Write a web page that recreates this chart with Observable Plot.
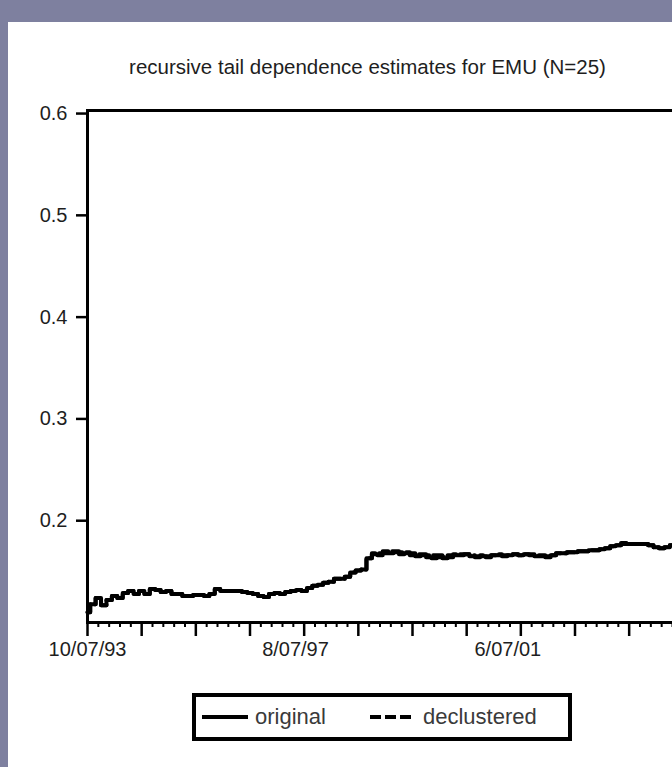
<!DOCTYPE html>
<html><head><meta charset="utf-8">
<script src="https://cdn.jsdelivr.net/npm/d3@7"></script>
<script src="https://cdn.jsdelivr.net/npm/@observablehq/plot@0.6"></script>
<style>
html,body{margin:0;padding:0;width:672px;height:767px;overflow:hidden;background:#7e809f;font-family:"Liberation Sans",Arial,sans-serif;}
#panel{position:absolute;left:8px;top:22px;width:760px;height:745px;background:#fff;}
#chart{position:absolute;left:0;top:0;}
#chart svg text{fill:#1e1e1e;}
#legend{position:absolute;left:184px;top:671px;width:372px;height:40px;border:4px solid #000;box-sizing:content-box;font-size:22px;color:#3a3a3a;}
#legend .item{position:absolute;top:0;height:40px;display:flex;align-items:center;}
#legend svg{display:block;}
</style></head>
<body>
<div id="panel">
  <div id="chart"></div>
  <div id="legend">
    <div class="item" style="left:6px"><svg width="46" height="8"><line x1="0" y1="4" x2="46" y2="4" stroke="#000" stroke-width="4"/></svg><span style="margin-left:7px">original</span></div>
    <div class="item" style="left:174px"><svg width="42" height="8"><line x1="0" y1="4" x2="42" y2="4" stroke="#000" stroke-width="4" stroke-dasharray="11,4"/></svg><span style="margin-left:11px">declustered</span></div>
  </div>
</div>
<script>
const titleText = "recursive tail dependence estimates for EMU (N=25)";
const step = 25; // observations between readings
const original = [
0.110,0.118,0.124,0.117,0.122,0.126,0.124,0.129,0.131,0.128,
0.131,0.128,0.133,0.132,0.130,0.131,0.128,0.128,0.126,0.126,
0.127,0.127,0.126,0.128,0.133,0.131,0.131,0.131,0.131,0.130,
0.129,0.128,0.126,0.125,0.128,0.129,0.128,0.130,0.131,0.132,
0.131,0.134,0.136,0.137,0.139,0.140,0.143,0.143,0.145,0.149,
0.151,0.152,0.163,0.167,0.166,0.168,0.168,0.169,0.167,0.168,
0.166,0.165,0.166,0.164,0.163,0.164,0.163,0.164,0.166,0.166,
0.167,0.165,0.164,0.165,0.164,0.166,0.166,0.165,0.166,0.167,
0.166,0.167,0.166,0.165,0.165,0.164,0.166,0.168,0.168,0.169,
0.169,0.170,0.170,0.171,0.171,0.172,0.173,0.175,0.176,0.178,
0.177,0.177,0.177,0.177,0.176,0.174,0.173,0.174,0.176,0.176,
0.175];
const declustered = [
0.110,0.118,0.124,0.117,0.122,0.126,0.124,0.129,0.131,0.128,
0.131,0.128,0.133,0.132,0.130,0.131,0.128,0.128,0.126,0.126,
0.127,0.127,0.126,0.128,0.133,0.131,0.131,0.131,0.131,0.130,
0.129,0.128,0.126,0.125,0.128,0.129,0.128,0.130,0.131,0.132,
0.131,0.134,0.136,0.137,0.139,0.140,0.143,0.143,0.145,0.149,
0.151,0.152,0.163,0.168,0.168,0.170,0.170,0.170,0.169,0.169,
0.168,0.167,0.167,0.166,0.166,0.166,0.165,0.166,0.167,0.167,
0.167,0.166,0.165,0.166,0.165,0.166,0.167,0.166,0.166,0.167,
0.166,0.167,0.167,0.166,0.166,0.165,0.166,0.168,0.168,0.169,
0.169,0.170,0.170,0.171,0.171,0.172,0.173,0.175,0.176,0.177,
0.177,0.177,0.177,0.177,0.176,0.174,0.173,0.174,0.176,0.176,
0.175];
const yTicks = [0.2, 0.3, 0.4, 0.5, 0.6];
const majorTicks = d3.range(0, 3001, 250);
const minorTicks = d3.range(0, 3001, 50).filter(d => d % 250 !== 0);
const labelObs = [0, 960, 1940];
const dateLabels = ["10/07/93", "8/07/97", "6/07/01"];

const origData = original.map((v, i) => ({obs: i * step, v}));
const declData = declustered.map((v, i) => ({obs: i * step, v}));
const labelMap = new Map(labelObs.map((o, i) => [o, dateLabels[i]]));

const chart = Plot.plot({
  width: 760,
  height: 645,
  marginTop: 88,
  marginLeft: 79,
  marginRight: 31,
  marginBottom: 45,
  style: {fontFamily: '"Liberation Sans", Arial, sans-serif', background: "transparent", overflow: "visible"},
  x: {domain: [0, 3000], axis: null},
  y: {domain: [0.1, 0.603], axis: null},
  marks: [
    Plot.line(declData, {x: "obs", y: "v", stroke: "#000", strokeWidth: 4, strokeDasharray: "11,4", curve: "step"}),
    Plot.line(origData, {x: "obs", y: "v", stroke: "#000", strokeWidth: 4, curve: "step"}),
    Plot.axisY({ticks: yTicks, tickSize: 11, tickPadding: 9, strokeWidth: 2.5, fontSize: 20, tickFormat: d => d.toFixed(1), label: null, stroke: "#000"}),
    Plot.axisX({ticks: minorTicks, tickSize: 5, strokeWidth: 2, tickFormat: () => "", label: null, stroke: "#000"}),
    Plot.axisX({ticks: majorTicks, tickSize: 14, strokeWidth: 2.5, tickFormat: () => "", label: null, stroke: "#000"}),
    Plot.axisX({ticks: labelObs, tickSize: 0, tickPadding: 19, fontSize: 20, tickFormat: d => labelMap.get(d), label: null}),
    Plot.frame({stroke: "#000", strokeWidth: 3}),
    Plot.text([titleText], {frameAnchor: "top-left", dx: 280, dy: -37, text: d => d, lineAnchor: "bottom", textAnchor: "middle", fontSize: 20.5})
  ]
});
document.getElementById("chart").appendChild(chart);
</script>
</body></html>
